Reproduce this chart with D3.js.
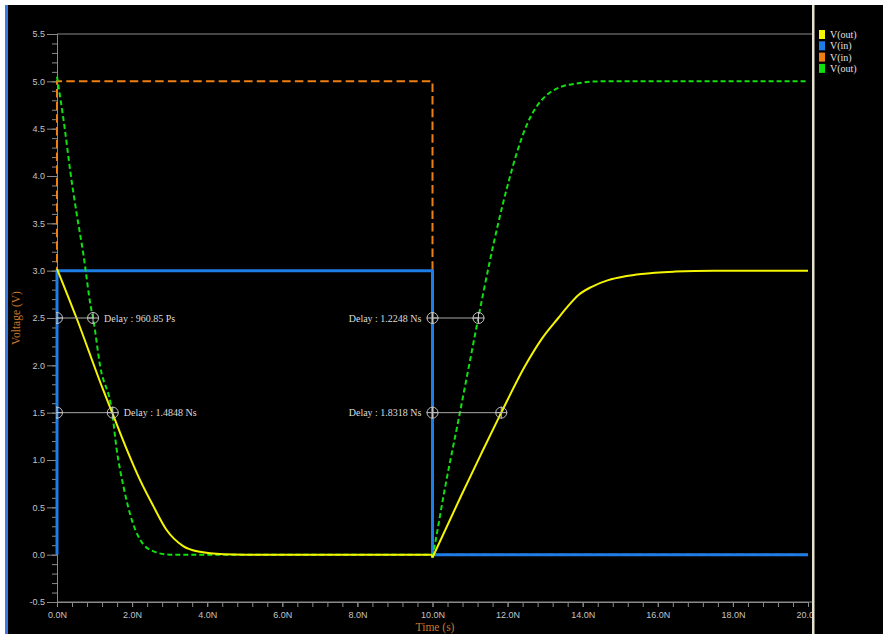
<!DOCTYPE html>
<meta charset="utf-8">
<head>
<style>
body { margin: 0; background: #fff; }
svg { display: block; }
.tick-label { font: 9px "Liberation Sans", sans-serif; fill: #c4c4c4; }
.delay-text { font: 10px "Liberation Serif", serif; fill: #dcdcdc; }
.legend text { font: 10px "Liberation Serif", serif; fill: #e0e0e0; }
.axis-title { font: 11.5px "Liberation Serif", serif; fill: #c8782c; }
</style>
</head>
<body>
<svg width="883" height="634"></svg>
<script src="https://cdn.jsdelivr.net/npm/d3@7"></script>
<script>
// ---- data (time in ns, voltage in V) ----
var inStepT   = [0, 0, 10, 10, 20];
var inStepV   = [0, 5, 5, 0, 0];        // V(in) orange, dashed
var inBlueT   = [0, 0, 10, 10, 20];
var inBlueV   = [0, 3, 3, 0, 0];        // V(in) blue

var outGreenT = [0, 0.21, 0.35, 0.52, 0.70, 0.90, 0.96, 1.15, 1.47, 1.59, 1.77, 1.99, 2.21, 2.57, 3.0, 6.0, 9.97,
                 10, 10.07, 10.33, 10.69, 10.95, 11.22, 11.5, 11.75, 12.0, 12.25, 12.5, 12.75, 13.0, 13.35, 13.88, 14.5, 16, 20];
var outGreenV = [5.05, 4.49, 4.06, 3.61, 3.18, 2.62, 2.5, 1.99, 1.5, 1.11, 0.72, 0.37, 0.16, 0.035, 0, 0, 0,
                 -0.03, 0.12, 0.70, 1.42, 1.95, 2.5, 3.05, 3.5, 3.9, 4.25, 4.53, 4.72, 4.84, 4.93, 4.98, 5.0, 5.0, 5.0];

var outYellowT = [0, 0.52, 1.23, 1.47, 1.86, 2.21, 2.57, 2.92, 3.36, 3.81, 4.43, 5.0, 7.5, 9.97,
                  10, 10.76, 11.29, 11.83, 12.46, 12.91, 13.35, 13.62, 13.88, 14.24, 14.68, 15.13, 15.57, 16.46, 17.5, 20];
var outYellowV = [3.02, 2.5, 1.74, 1.5, 1.11, 0.79, 0.51, 0.26, 0.09, 0.03, 0.005, 0, 0, 0,
                  -0.03, 0.62, 1.06, 1.5, 1.99, 2.28, 2.5, 2.63, 2.74, 2.83, 2.90, 2.94, 2.965, 2.99, 3.0, 3.0];

// delay measurements: level, start, end, label
var delayLevel = [2.5, 1.5, 2.5, 1.5];
var delayFrom  = [0, 0, 10, 10];
var delayTo    = [0.96, 1.4848, 11.2248, 11.8318];
var delayText  = ["Delay : 960.85 Ps", "Delay : 1.4848 Ns", "Delay : 1.2248 Ns", "Delay : 1.8318 Ns"];

var legendNames  = ["V(out)", "V(in)", "V(in)", "V(out)"];
var legendColors = ["#f5f500", "#1c7ee6", "#ee7f12", "#10e010"];

var xMajor = d3.range(0, 20.01, 2);
var xMinor = d3.range(0, 20.01, 0.4);
var yMajor = d3.range(-0.5, 5.51, 0.5);
var yMinor = d3.range(-0.5, 5.51, 0.1);

// ---- layout ----
var svg = d3.select("svg");
var x = d3.scaleLinear().domain([0, 20]).range([57, 808]);
var y = d3.scaleLinear().domain([-0.5, 5.5]).range([602, 34]);

svg.append("rect").attr("x", 0).attr("y", 0).attr("width", 883).attr("height", 634).attr("fill", "#fff");
svg.append("rect").attr("x", 8).attr("y", 5).attr("width", 875).attr("height", 629).attr("fill", "#000");
svg.append("rect").attr("x", 5).attr("y", 5).attr("width", 3).attr("height", 629).attr("fill", "#3b7be0");

svg.append("clipPath").attr("id", "plotclip")
  .append("rect").attr("x", 56).attr("y", 30).attr("width", 760).attr("height", 580);

// axes
var axisColor = "#8a8a8a";
var gY = svg.append("g").attr("transform", "translate(57,0)")
  .call(d3.axisLeft(y).tickValues(yMinor).tickSize(5).tickFormat(""));
var gY2 = svg.append("g").attr("transform", "translate(57,0)")
  .call(d3.axisLeft(y).tickValues(yMajor).tickSize(10).tickPadding(2).tickFormat(function(d) { return d.toFixed(1); }));
var gX = svg.append("g").attr("transform", "translate(0,602)")
  .call(d3.axisBottom(x).tickValues(xMinor).tickSize(5).tickFormat(""));
var gX2 = svg.append("g").attr("transform", "translate(0,602)")
  .call(d3.axisBottom(x).tickValues(xMajor).tickSize(5).tickPadding(5)
    .tickFormat(function(d) { return d.toFixed(1) + "N"; }));
[gY, gY2, gX, gX2].forEach(function(g) {
  g.select(".domain").attr("stroke", axisColor);
  g.selectAll(".tick line").attr("stroke", axisColor);
  g.selectAll(".tick text").attr("class", "tick-label").attr("fill", null);
});
gX.select(".domain").attr("d", "M57,0H812");
svg.append("line").attr("x1", 57).attr("x2", 812).attr("y1", y(5.5)).attr("y2", y(5.5))
  .attr("stroke", axisColor);

// series
function series(ts, vs) { return ts.map(function(t, i) { return [t, vs[i]]; }); }
var line = d3.line().x(function(d) { return x(d[0]); }).y(function(d) { return y(d[1]); });
var smooth = d3.line().x(function(d) { return x(d[0]); }).y(function(d) { return y(d[1]); })
  .curve(d3.curveMonotoneX);
// split at the 10 ns switching point so the curve keeps its sharp corner there
function halves(ts, vs) {
  var a = series(ts, vs), k = ts.indexOf(10);
  return [a.slice(0, k + 1), a.slice(k)];
}

var plot = svg.append("g");
plot.append("path").attr("d", line(series(inStepT, inStepV)))
  .attr("fill", "none").attr("stroke", legendColors[2]).attr("stroke-width", 2)
  .attr("stroke-dasharray", "8.5,4.2");
plot.append("path").attr("d", line(series(inBlueT, inBlueV)))
  .attr("fill", "none").attr("stroke", legendColors[1]).attr("stroke-width", 3);
halves(outGreenT, outGreenV).forEach(function(s) {
  plot.append("path").attr("d", smooth(s))
    .attr("fill", "none").attr("stroke", legendColors[3]).attr("stroke-width", 2)
    .attr("stroke-dasharray", "5,3");
});
halves(outYellowT, outYellowV).forEach(function(s) {
  plot.append("path").attr("d", smooth(s))
    .attr("fill", "none").attr("stroke", legendColors[0]).attr("stroke-width", 2);
});

// delay markers
var mk = svg.append("g").attr("clip-path", "url(#plotclip)");
delayLevel.forEach(function(lv, i) {
  var yy = y(lv), x0 = x(delayFrom[i]), x1 = x(delayTo[i]);
  mk.append("line").attr("x1", x0).attr("x2", x1).attr("y1", yy).attr("y2", yy)
    .attr("stroke", "#a8a8a8").attr("stroke-width", 1);
  [x0, x1].forEach(function(cx) {
    mk.append("circle").attr("cx", cx).attr("cy", yy).attr("r", 5.5)
      .attr("fill", "none").attr("stroke", "#c0c0c0").attr("stroke-width", 1);
    mk.append("path").attr("d", "M" + (cx - 6) + "," + yy + "H" + (cx + 6) + "M" + cx + "," + (yy - 6) + "V" + (yy + 6))
      .attr("stroke", "#c0c0c0").attr("stroke-width", 1);
  });
  var left = delayFrom[i] === 0;
  svg.append("text").attr("class", "delay-text")
    .attr("x", left ? x1 + 11 : x0 - 11).attr("y", yy + 3.5)
    .attr("text-anchor", left ? "start" : "end")
    .text(delayText[i]);
});

// right legend panel
svg.append("rect").attr("x", 812).attr("y", 5).attr("width", 71).attr("height", 629).attr("fill", "#000");
svg.append("rect").attr("x", 812).attr("y", 5).attr("width", 2.5).attr("height", 629).attr("fill", "#e6e2cc");
var lg = svg.append("g").attr("class", "legend");
legendNames.forEach(function(n, i) {
  lg.append("rect").attr("x", 819).attr("y", 30 + i * 11.3).attr("width", 6).attr("height", 9)
    .attr("fill", legendColors[i]);
  lg.append("text").attr("x", 830).attr("y", 38 + i * 11.3).text(n);
});

// axis titles
svg.append("text").attr("class", "axis-title").attr("x", 435).attr("y", 631)
  .attr("text-anchor", "middle").text("Time (s)");
svg.append("text").attr("class", "axis-title")
  .attr("transform", "translate(20,318) rotate(-90)")
  .attr("text-anchor", "middle").text("Voltage (V)");
</script>
</body>
